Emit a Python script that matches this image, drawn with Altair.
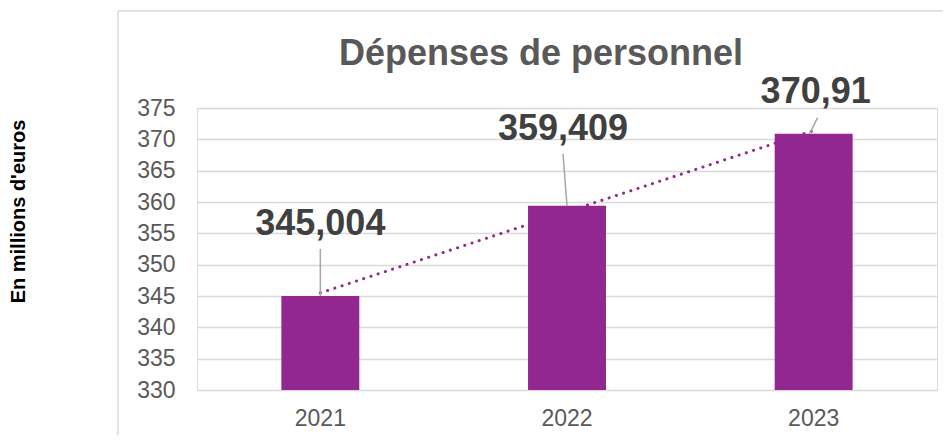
import altair as alt
import pandas as pd

# ---- data ----
years = [2021, 2022, 2023]
values = [345.004, 359.409, 370.91]
y_ticks = [330, 335, 340, 345, 350, 355, 360, 365, 370, 375]
chart_title = "Dépenses de personnel"
y_title = "En millions d'euros"

df = pd.DataFrame({"year": years, "value": values})

# ---- styling ----
FONT = "Liberation Sans"
PURPLE = "#92278F"
GRID = "#d9d9d9"
W, H = 740, 282

# per-label placement (pixels, relative to bar top centre)
LABEL_POS = {2021: (0, -61), 2022: (-4, -66), 2023: (2, -31)}
# leader line: (bottom dx, bottom dy, top dx, top dy)
LEADER_POS = {2021: (0, 0, 0, -47), 2022: (0, 0, -4, -52), 2023: (-4, 0, 4, -16)}

x_enc = alt.X(
    "year:O",
    scale=alt.Scale(paddingInner=0.684, paddingOuter=0.342),
    axis=alt.Axis(
        title=None, labelAngle=0, labelFont=FONT, labelFontSize=23,
        labelColor="#595959", labelPadding=17, ticks=False, domain=False, grid=False,
    ),
)
y_enc = alt.Y(
    "value:Q",
    scale=alt.Scale(domain=[330, 375], zero=False, nice=False),
    axis=alt.Axis(
        values=y_ticks, title=y_title, titleFont=FONT, titleFontSize=20,
        titleFontWeight="bold", titleColor="#000000", titleX=-179, titleY=103,
        titleBaseline="middle", titleAlign="center", titleAngle=270,
        labelFont=FONT, labelFontSize=23, labelColor="#595959", labelPadding=22,
        labelOverlap=False, ticks=False, domain=False, gridColor=GRID, gridWidth=1.5,
    ),
)

base = alt.Chart(df)

bars = base.mark_bar(color=PURPLE, clip=True).encode(x=x_enc, y=y_enc)

trend = (
    base.transform_regression("year", "value", method="linear")
    .mark_line(color=PURPLE, strokeWidth=3, strokeDash=[0.1, 7.5], strokeCap="round")
    .encode(x=x_enc, y=y_enc)
)

layers = [bars, trend]

for yr in years:
    bdx, bdy, tdx, tdy = LEADER_POS[yr]
    layers.append(
        base.transform_filter(alt.datum.year == yr)
        .mark_rule(color="#a6a6a6", strokeWidth=1.5,
                   xOffset=bdx, yOffset=bdy, x2Offset=tdx, y2Offset=tdy)
        .encode(
            x=alt.X("year:O", bandPosition=0.5,
                    scale=alt.Scale(paddingInner=0.684, paddingOuter=0.342)),
            x2=alt.X2("year", bandPosition=0.5),
            y=y_enc,
            y2="value",
        )
    )
    ldx, ldy = LABEL_POS[yr]
    layers.append(
        base.transform_filter(alt.datum.year == yr)
        .transform_calculate(label="replace(toString(datum.value), '.', ',')")
        .mark_text(font=FONT, fontSize=36, fontWeight="bold", color="#404040",
                   align="center", baseline="alphabetic", dx=ldx, dy=ldy)
        .encode(x=x_enc, y=y_enc, text="label:N")
    )

# chart frame (top and left edges of the bordered box)
frame_src = alt.Chart(alt.Data(values=[{}]))
frame_top = frame_src.mark_rule(color=GRID, strokeWidth=1.5).encode(
    x=alt.value(-79), x2=alt.value(746), y=alt.value(-97)
)
frame_left = frame_src.mark_rule(color=GRID, strokeWidth=1.5).encode(
    x=alt.value(-79), y=alt.value(-97), y2=alt.value(H + 45)
)

chart = (
    alt.layer(*layers, frame_top, frame_left)
    .properties(
        width=W,
        height=H,
        padding={"left": 0, "top": 2, "right": 0, "bottom": 0},
        title=alt.TitleParams(
            text=chart_title, font=FONT, fontSize=36, fontWeight="bold",
            color="#595959", anchor="middle", frame="group", dx=-26,
            baseline="alphabetic", offset=-91,
        ),
    )
    .configure_view(strokeWidth=0)
    .configure(background="white")
)

chart.save("out.html", embed_options={"renderer": "svg", "actions": False})
